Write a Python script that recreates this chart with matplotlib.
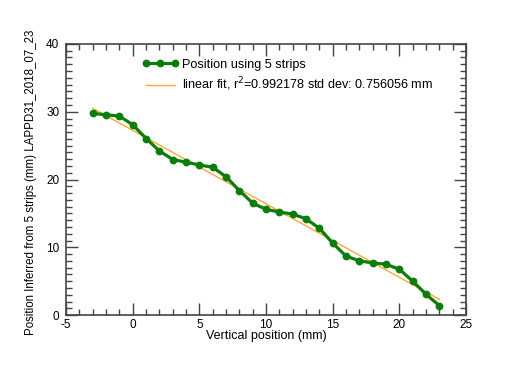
import numpy as np
import matplotlib
matplotlib.use('Agg')
import matplotlib.pyplot as plt
from matplotlib.ticker import MultipleLocator

plt.rcParams['font.family'] = ['Liberation Sans', 'DejaVu Sans']
plt.rcParams['axes.unicode_minus'] = False

# vertical position of the laser (mm) vs position inferred from 5 strips
vert_pos = [-3, -2, -1, 0, 1, 2, 3, 4, 5, 6, 7, 8, 9, 10, 11, 12, 13,
            14, 15, 16, 17, 18, 19, 20, 21, 22, 23]
inferred = [29.75, 29.55, 29.35, 28.07, 26.05, 24.2, 22.95, 22.55, 22.15,
            21.8, 20.4, 18.35, 16.5, 15.6, 15.2, 14.9, 14.2, 12.8, 10.6,
            8.7, 8.0, 7.7, 7.5, 6.75, 5.0, 3.05, 1.4]

data_label = 'Position using 5 strips'
fit_label = r'linear fit, r$^2$=0.992178 std dev: 0.756056 mm'

green = '#0a7d0a'
orange = '#ffa735'

fig = plt.figure(figsize=(5.05, 3.66), dpi=100)
ax = fig.add_axes([0.131, 0.139, 0.792, 0.741])

x = np.array(vert_pos, dtype=float)
y = np.array(inferred)
slope, icpt = np.polyfit(x, y, 1)

ax.plot(x, y, '-o', color=green, lw=2.3, ms=4.6, label=data_label, zorder=3)
ax.plot(x, slope*x + icpt, '-', color=orange, lw=1.0, label=fit_label, zorder=2)

ax.set_xlim(-5, 25)
ax.set_ylim(0, 40)
ax.xaxis.set_major_locator(MultipleLocator(5))
ax.xaxis.set_minor_locator(MultipleLocator(1))
ax.yaxis.set_major_locator(MultipleLocator(10))
ax.yaxis.set_minor_locator(MultipleLocator(1))

ax.tick_params(which='both', direction='in', top=True, right=True,
               color='#444444', labelsize=8.5)
ax.tick_params(which='major', length=8.5, width=1.0)
ax.tick_params(which='minor', length=4.3, width=1.0)
ax.tick_params(axis='y', pad=5)
ax.tick_params(axis='x', pad=3)
for sp in ax.spines.values():
    sp.set_linewidth(1.2)
    sp.set_color('#444444')

ax.set_xlabel('Vertical position (mm)', fontsize=9)
ax.xaxis.set_label_coords(0.5, -0.055)
ax.set_ylabel('Position Inferred from 5 strips (mm) LAPPD31_2018_07_23',
              fontsize=8.3)
ax.yaxis.set_label_coords(-0.072, 0.49)

ax.legend(loc='upper left', bbox_to_anchor=(0.19, 0.946), frameon=False,
          numpoints=3, fontsize=9.1, handlelength=2.9, handletextpad=0.25,
          labelspacing=0.4, borderaxespad=0, borderpad=0)

fig.savefig('out.png', dpi=100)
